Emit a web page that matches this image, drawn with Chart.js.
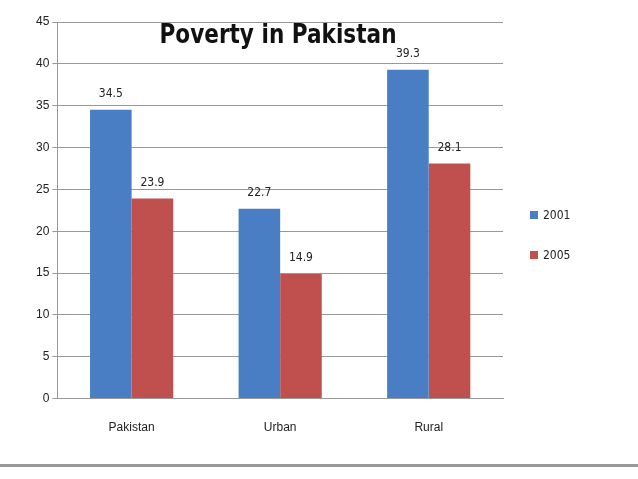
<!DOCTYPE html>
<html><head><script src="https://cdn.jsdelivr.net/npm/chart.js"></script>
<style>body{margin:0;background:#fff}#w{width:638px;height:479px}</style></head>
<body><div id="w"><canvas id="c"></canvas></div>
<script>
const categories=["Pakistan","Urban","Rural"];
const s2001=[34.5,22.7,39.3];
const s2005=[23.9,14.9,28.1];
const seriesNames=["2001","2005"];
const colors=["#4A7EC4","#C0504D"];
const extras={id:'extras',afterDatasetsDraw(ch){
 const x=ch.ctx;x.save();
 x.font='12px "DejaVu Sans Condensed", sans-serif';x.fillStyle='#222';x.textAlign='center';x.textBaseline='bottom';
 ch.data.datasets.forEach((d,i)=>ch.getDatasetMeta(i).data.forEach((b,j)=>x.fillText(d.data[j].toFixed(1),b.x,b.y-10)));
 x.save();x.translate(278,36);x.scale(0.8,1);
 x.font='bold 27px "DejaVu Sans", sans-serif';x.fillStyle='#111';x.textBaseline='middle';
 x.fillText('Poverty in Pakistan',0,0);x.restore();
 x.font='12px "DejaVu Sans Condensed", sans-serif';x.textAlign='left';x.textBaseline='middle';
 seriesNames.forEach((n,i)=>{x.fillStyle=colors[i];x.fillRect(530,211+i*40,8,8);x.fillStyle='#222';x.fillText(n,543,216+i*40);});
 x.fillStyle='#999';x.fillRect(0,464,638,3);
 x.restore();}};
new Chart(document.getElementById('c'),{type:'bar',
 data:{labels:categories,datasets:[{label:seriesNames[0],data:s2001,backgroundColor:colors[0]},{label:seriesNames[1],data:s2005,backgroundColor:colors[1]}]},
 options:{responsive:true,maintainAspectRatio:false,animation:false,
  layout:{padding:{top:22,right:135,bottom:30,left:33}},
  plugins:{legend:{display:false},tooltip:{enabled:false}},
  datasets:{bar:{categoryPercentage:0.56,barPercentage:1}},
  scales:{y:{min:0,max:45,ticks:{stepSize:5,color:'#222',font:{size:12}},grid:{color:'#999',drawTicks:true,tickLength:5},border:{color:'#999'}},
   x:{grid:{display:false},ticks:{color:'#222',font:{size:12},padding:14},border:{color:'#999'}}}},
 plugins:[extras]});
</script></body></html>
